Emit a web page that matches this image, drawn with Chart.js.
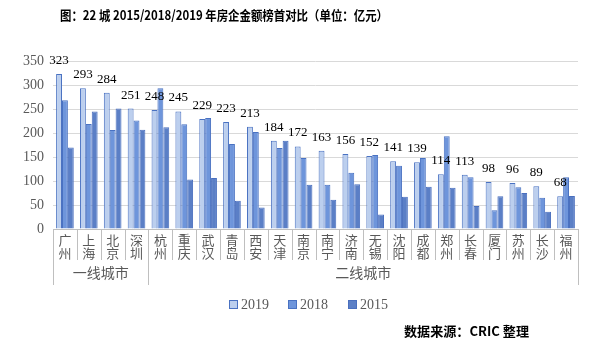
<!DOCTYPE html>
<html>
<head>
<meta charset="utf-8">
<script src="https://cdn.jsdelivr.net/npm/chart.js@4/dist/chart.umd.min.js"></script>
<style>
  html,body{margin:0;padding:0;background:#fff;}
  #wrap{width:600px;height:350px;position:relative;}
</style>
</head>
<body>
<div id="wrap"><canvas id="c" width="600" height="350"></canvas></div>
<script>
const cities = ['广州','上海','北京','深圳','杭州','重庆','武汉','青岛','西安','天津','南京','南宁','济南','无锡','沈阳','成都','郑州','长春','厦门','苏州','长沙','福州'];
const groups = [
  {label:'一线城市', from:0, to:3},
  {label:'二线城市', from:4, to:21}
];
const seriesNames = ['2019','2018','2015'];
const values2019 = [323,293,284,251,248,245,229,223,213,184,172,163,156,152,141,139,114,113,98,96,89,68];
const values2018 = [268,219,206,226,293,218,231,177,202,169,148,92,117,154,132,148,193,108,39,87,65,108];
const values2015 = [170,245,251,207,212,103,106,59,45,184,92,61,93,30,67,88,86,48,68,75,36,69];
const yTicks = [0,50,100,150,200,250,300,350];
const titleText = '图：22 城 2015/2018/2019 年房企金额榜首对比（单位：亿元）';
const sourceText = '数据来源：CRIC 整理';

const fills = ['#BCCFEE','#6E95DB','#5B7FC6'];
const borders = ['#4A72C2','#4A72C2','#4A6FBE'];
const NUMFONT = '"Liberation Serif", "DejaVu Serif", serif';
const CJKFONT = '"Noto Sans CJK SC", "Noto Sans", sans-serif';

function drawFitted(ctx, text, x, y, w){
  const m = ctx.measureText(text).width;
  ctx.save();
  ctx.translate(x, y);
  ctx.scale(w / m, 1);
  ctx.fillText(text, 0, 0);
  ctx.restore();
}

const extras = {
  id: 'extras',
  afterDatasetsDraw(chart){
    const ctx = chart.ctx;
    const meta = chart.getDatasetMeta(0);
    ctx.save();
    ctx.fillStyle = '#000';
    ctx.font = '13px ' + NUMFONT;
    ctx.textAlign = 'center';
    ctx.textBaseline = 'alphabetic';
    meta.data.forEach((bar, i) => {
      ctx.fillText(String(values2019[i]), bar.x, bar.y - 10);
    });
    ctx.restore();
  },
  afterDraw(chart){
    const ctx = chart.ctx;
    const xs = chart.scales.x;
    const area = chart.chartArea;
    const n = cities.length;
    const bw = (area.right - area.left) / n;
    const edge = i => area.left + bw * i;
    ctx.save();
    // axis line
    ctx.strokeStyle = '#BFBFBF';
    ctx.lineWidth = 1;
    ctx.beginPath();
    ctx.moveTo(area.left, area.bottom + 0.5);
    ctx.lineTo(area.right, area.bottom + 0.5);
    ctx.stroke();
    // separators
    const groupEdges = new Set([0, n]);
    groups.forEach(g => { groupEdges.add(g.from); groupEdges.add(g.to + 1); });
    for (let i = 0; i <= n; i++) {
      const x = Math.round(edge(i)) + 0.5;
      ctx.beginPath();
      ctx.moveTo(x, area.bottom);
      ctx.lineTo(x, groupEdges.has(i) ? area.bottom + 56 : area.bottom + 31);
      ctx.stroke();
    }
    // category labels (vertical chars)
    ctx.fillStyle = '#595959';
    ctx.font = '13px ' + CJKFONT;
    ctx.textAlign = 'center';
    ctx.textBaseline = 'middle';
    cities.forEach((c, i) => {
      const x = xs.getPixelForValue(i);
      [...c].forEach((ch, k) => ctx.fillText(ch, x, area.bottom + 11 + k * 13.5));
    });
    // group labels
    ctx.font = '14px ' + CJKFONT;
    groups.forEach(g => {
      const x = (edge(g.from) + edge(g.to + 1)) / 2;
      ctx.fillText(g.label, x, area.bottom + 44);
    });
    // legend
    const legX = [229, 288, 348];
    ctx.font = '14px ' + NUMFONT;
    ctx.textAlign = 'left';
    seriesNames.forEach((s, i) => {
      ctx.fillStyle = fills[i];
      ctx.fillRect(legX[i] + 0.5, 300.5, 8, 8);
      ctx.strokeStyle = borders[i];
      ctx.strokeRect(legX[i] + 0.5, 300.5, 8, 8);
      ctx.fillStyle = '#595959';
      ctx.fillText(s, legX[i] + 12, 305);
    });
    // title
    ctx.fillStyle = '#000';
    ctx.font = 'bold 13px ' + CJKFONT;
    ctx.textBaseline = 'middle';
    ctx.textAlign = 'left';
    drawFitted(ctx, titleText, 60, 15, 328);
    // source
    drawFitted(ctx, sourceText, 404, 331, 125);
    ctx.restore();
  }
};

new Chart(document.getElementById('c'), {
  type: 'bar',
  data: {
    labels: cities,
    datasets: [
      {label: seriesNames[0], data: values2019, backgroundColor: fills[0], borderColor: borders[0], borderWidth: 1},
      {label: seriesNames[1], data: values2018, backgroundColor: fills[1], borderColor: borders[1], borderWidth: 1},
      {label: seriesNames[2], data: values2015, backgroundColor: fills[2], borderColor: borders[2], borderWidth: 1}
    ]
  },
  options: {
    responsive: false,
    devicePixelRatio: 1,
    animation: false,
    layout: {padding: {top: 61, bottom: 121, left: 0, right: 22}},
    plugins: {legend: {display: false}, tooltip: {enabled: false}},
    datasets: {bar: {categoryPercentage: 0.74, barPercentage: 1.0}},
    scales: {
      x: {display: false},
      y: {
        min: 0, max: 350,
        afterFit(scale){ scale.width = 53; },
        afterBuildTicks(scale){ scale.ticks = yTicks.map(v => ({value: v})); },
        ticks: {color: '#595959', font: {family: NUMFONT, size: 14}, padding: 9},
        grid: {color: '#D9D9D9', drawTicks: false},
        border: {display: false}
      }
    }
  },
  plugins: [extras]
});
</script>
</body>
</html>
